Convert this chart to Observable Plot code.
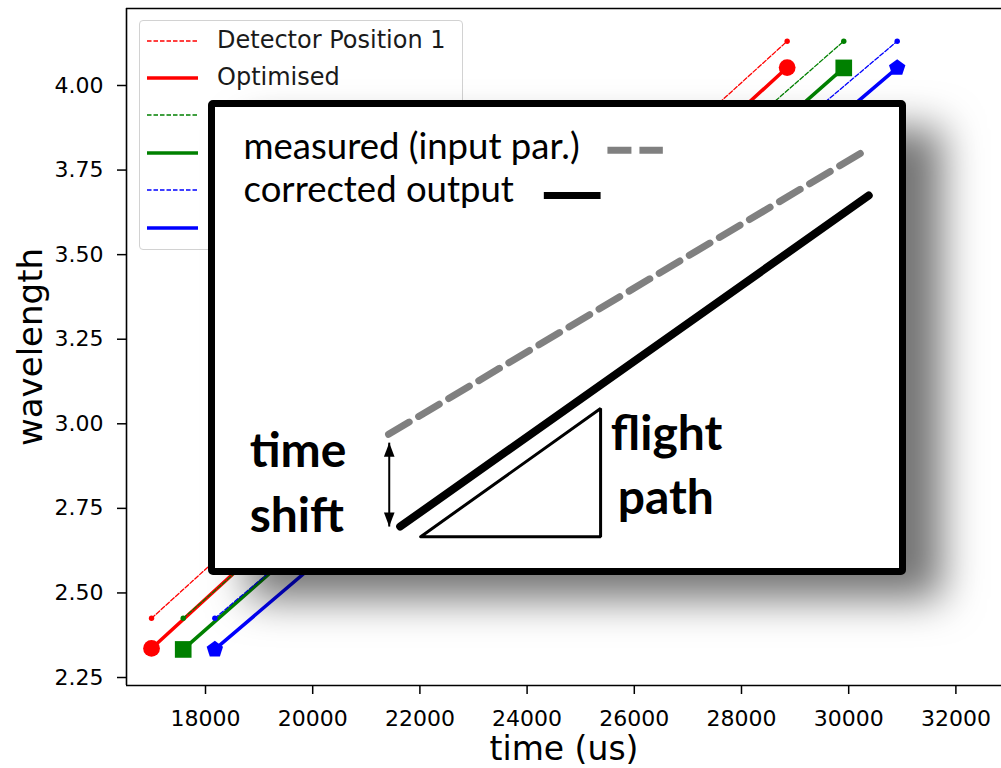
<!DOCTYPE html>
<html>
<head>
<meta charset="utf-8">
<script src="https://cdn.jsdelivr.net/npm/d3@7"></script>
<script src="https://cdn.jsdelivr.net/npm/@observablehq/plot@0.6"></script>
<style>
  body { margin: 0; background: #fff; }
  #chart { position: relative; width: 1001px; height: 768px; overflow: hidden; font-family: "DejaVu Sans", sans-serif; }
  #chart > svg { position: absolute; left: 0; top: 0; }
  .legend { position: absolute; left: 139px; top: 20px; width: 324px; height: 230px; box-sizing: border-box;
            border: 1px solid #d2d2d2; border-radius: 4px; background: rgba(255,255,255,0.8); }
  .legend .row { position: absolute; left: 0; height: 37.4px; width: 100%; }
  .legend .row svg { position: absolute; left: 7px; top: 12.7px; }
  .legend .row span { position: absolute; left: 77px; top: 0; line-height: 37.4px; font-size: 24px; color: #1a1a1a; white-space: nowrap; }
  .inset { position: absolute; left: 208px; top: 100px; width: 684px; height: 461px;
           border: 7px solid #000; border-radius: 5px; background: #fff;
           box-shadow: 38px 26px 40px -2px rgba(0,0,0,0.55); }
  .inset svg { display: block; }
</style>
</head>
<body>
<div id="chart"></div>
<script>
// ---- axes ----
const xDomain = [16526, 32851];
const yDomain = [2.2264, 4.2276];
const xTicks = [18000, 20000, 22000, 24000, 26000, 28000, 30000, 32000];
const yTicks = [2.25, 2.50, 2.75, 3.00, 3.25, 3.50, 3.75, 4.00];

// ---- three detector positions ----
const seriesNames = ["Detector Position 1", "Detector Position 2", "Detector Position 3"];
const seriesColors = ["#ff0000", "#008000", "#0000ff"];
const seriesMarkers = ["circle", "square", "pentagon"];
// measured (detector position) line endpoints
const detTime = [[16993, 28852], [17584, 29908], [18174, 30905]];
const detWavelength = [[2.425, 4.131], [2.425, 4.131], [2.425, 4.131]];
// optimised line endpoints
const optTime = [[16993, 28852], [17584, 29908], [18174, 30905]];
const optWavelength = [[2.336, 4.053], [2.333, 4.052], [2.333, 4.052]];

// ---- schematic inset (unit coordinates 0..100) ----
const measuredLine = [{u: 25.3, v: 29.1}, {u: 95.5, v: 91.1}];
const correctedLine = [{u: 27.0, v: 9.1}, {u: 95.5, v: 80.9}];
const flightTriangle = [{u: 30.0, v: 6.9}, {u: 56.3, v: 6.9}, {u: 56.3, v: 34.7}, {u: 30.0, v: 6.9}];
const shiftArrow = [{u: 25.4, v1: 9.1, v2: 27.3}];
const insetLegend = [
  {label: "measured (input par.)", u: 4.1, v: 88.8, s1: 57.3, s2: 65.4, sv: 90.7},
  {label: "corrected output", u: 4.1, v: 79.6, s1: 48.0, s2: 56.3, sv: 80.9}
];
const annotations = [
  {text: "time", u: 5.0, v: 22.1},
  {text: "shift", u: 5.0, v: 8.0},
  {text: "flight", u: 57.8, v: 25.6},
  {text: "path", u: 58.8, v: 11.9}
];

// custom marker shapes
const pentagon = {
  draw(ctx, size) {
    const r = Math.sqrt(size / Math.PI) * 1.05;
    for (let k = 0; k < 5; k++) {
      const a = -Math.PI / 2 + k * 2 * Math.PI / 5;
      const px = r * Math.cos(a), py = r * Math.sin(a);
      if (k === 0) ctx.moveTo(px, py); else ctx.lineTo(px, py);
    }
    ctx.closePath();
  }
};
const headUp = {
  draw(ctx, size) {
    const r = Math.sqrt(size / Math.PI);
    ctx.moveTo(0, 0); ctx.lineTo(-0.38 * r, r); ctx.lineTo(0.38 * r, r); ctx.closePath();
  }
};
const headDown = {
  draw(ctx, size) {
    const r = Math.sqrt(size / Math.PI);
    ctx.moveTo(0, 0); ctx.lineTo(-0.38 * r, -r); ctx.lineTo(0.38 * r, -r); ctx.closePath();
  }
};
const markerShape = {circle: "circle", square: "square", pentagon};
const markerRadius = {circle: 8.4, square: 9.4, pentagon: 8.2};

// ---- main chart ----
const seriesMarks = [];
seriesNames.forEach((name, i) => {
  const det = detTime[i].map((t, j) => ({t, w: detWavelength[i][j]}));
  const opt = optTime[i].map((t, j) => ({t, w: optWavelength[i][j]}));
  const color = seriesColors[i];
  const m = seriesMarkers[i];
  seriesMarks.push(
    Plot.line(det, {x: "t", y: "w", stroke: color, strokeWidth: 1.3, strokeDasharray: "4.5,2"}),
    Plot.dot(det, {x: "t", y: "w", r: 2.7, fill: color, symbol: "circle"}),
    Plot.line(opt, {x: "t", y: "w", stroke: color, strokeWidth: 3.5}),
    Plot.dot(opt, {x: "t", y: "w", r: markerRadius[m], fill: color, symbol: markerShape[m]})
  );
});

const main = Plot.plot({
  width: 1001,
  height: 768,
  marginLeft: 126,
  marginRight: 0,
  marginTop: 8,
  marginBottom: 83,
  style: {fontFamily: "DejaVu Sans", fontSize: "22px", color: "#000", background: "transparent", overflow: "visible"},
  x: {domain: xDomain},
  y: {domain: yDomain},
  marks: [
    Plot.axisX({ticks: xTicks, tickSize: 9, tickPadding: 16, tickFormat: d3.format("d"), label: null, fontSize: 22, strokeWidth: 1.5}),
    Plot.axisY({ticks: yTicks, tickSize: 9, tickPadding: 14, tickFormat: d3.format(".2f"), label: null, fontSize: 22, strokeWidth: 1.5}),
    Plot.ruleX([xDomain[0]], {stroke: "#000", strokeWidth: 1.6}),
    Plot.ruleY([yDomain[0], yDomain[1]], {stroke: "#000", strokeWidth: 1.6}),
    ...seriesMarks,
    Plot.text(["wavelength"], {text: Plot.identity, frameAnchor: "left", dx: -95, rotate: -90, fontSize: 34, textAnchor: "middle", lineAnchor: "middle"}),
    Plot.text(["time (us)"], {text: Plot.identity, frameAnchor: "bottom", dy: 74, fontSize: 33, textAnchor: "middle", lineAnchor: "bottom"})
  ]
});

const chart = document.getElementById("chart");
chart.appendChild(main);

// ---- legend ----
const legendRows = [];
seriesNames.forEach((name, i) => {
  legendRows.push({label: name, color: seriesColors[i], dashed: true});
  legendRows.push({label: "Optimised", color: seriesColors[i], dashed: false});
});
const legend = document.createElement("div");
legend.className = "legend";
legendRows.forEach((row, i) => {
  const div = document.createElement("div");
  div.className = "row";
  div.style.top = (1 + i * 37.4) + "px";
  const dash = row.dashed ? 'stroke-dasharray="4.5,2" stroke-width="1.3"' : 'stroke-width="3.5"';
  div.innerHTML = `<svg width="51" height="12"><line x1="0" x2="51" y1="6" y2="6" stroke="${row.color}" ${dash}/></svg><span>${row.label}</span>`;
  legend.appendChild(div);
});
chart.appendChild(legend);

// ---- schematic inset ----
const inset = Plot.plot({
  width: 684,
  height: 461,
  margin: 0,
  x: {domain: [0, 100], axis: null},
  y: {domain: [0, 100], axis: null},
  style: {fontFamily: "Lato", background: "#fff", overflow: "visible", color: "#000"},
  marks: [
    Plot.line(measuredLine, {x: "u", y: "v", stroke: "#808080", strokeWidth: 7, strokeDasharray: "24,11"}),
    Plot.line(correctedLine, {x: "u", y: "v", stroke: "#000", strokeWidth: 8}),
    Plot.line(flightTriangle, {x: "u", y: "v", stroke: "#000", strokeWidth: 3, strokeLinejoin: "miter"}),
    Plot.link(shiftArrow, {x1: "u", x2: "u", y1: "v1", y2: "v2", stroke: "#000", strokeWidth: 2}),
    Plot.dot(shiftArrow, {x: "u", y: "v2", symbol: headUp, r: 14, fill: "#000"}),
    Plot.dot(shiftArrow, {x: "u", y: "v1", symbol: headDown, r: 14, fill: "#000"}),
    Plot.link(insetLegend.slice(0, 1), {x1: "s1", x2: "s2", y1: "sv", y2: "sv", stroke: "#808080", strokeWidth: 7, strokeDasharray: "24,8"}),
    Plot.link(insetLegend.slice(1), {x1: "s1", x2: "s2", y1: "sv", y2: "sv", stroke: "#000", strokeWidth: 7}),
    Plot.text(insetLegend, {x: "u", y: "v", text: "label", textAnchor: "start", lineAnchor: "bottom", fontSize: 36.5}),
    Plot.text(annotations, {x: "u", y: "v", text: "text", textAnchor: "start", lineAnchor: "bottom", fontSize: 48, fontWeight: "bold"})
  ]
});
const insetBox = document.createElement("div");
insetBox.className = "inset";
insetBox.appendChild(inset);
chart.appendChild(insetBox);
</script>
</body>
</html>
